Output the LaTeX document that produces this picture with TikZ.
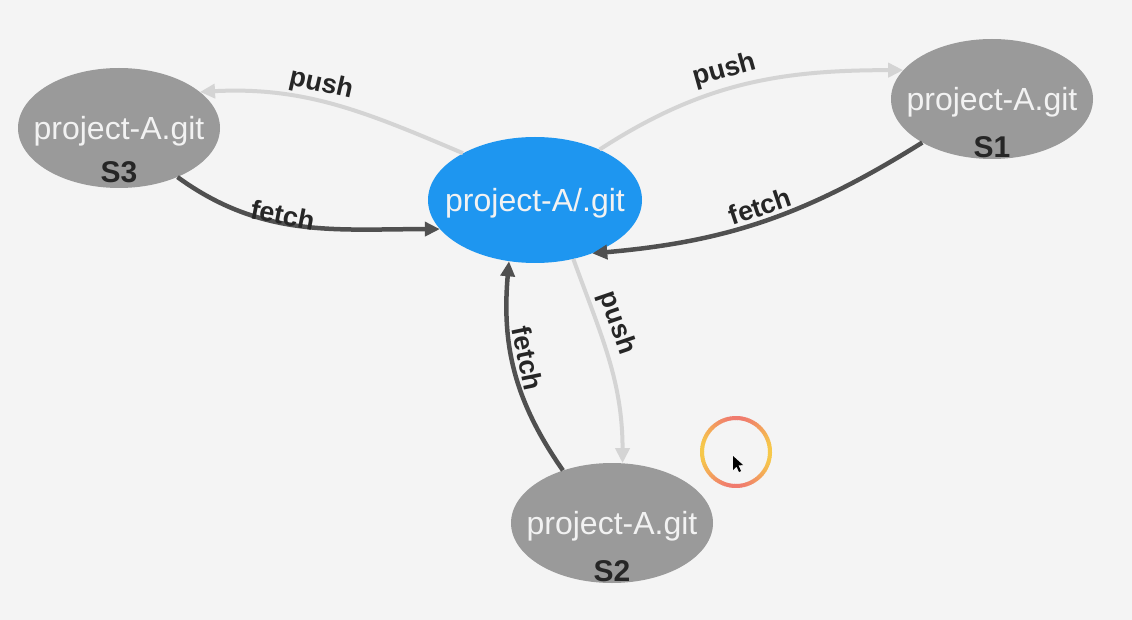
\documentclass[tikz,border=0pt]{standalone}
\usepackage{fontspec}
\setmainfont{Liberation Sans}
\usetikzlibrary{arrows.meta,shapes.geometric}
\definecolor{bg}{HTML}{F4F4F4}
\definecolor{repogray}{HTML}{9A9A9A}
\definecolor{localblue}{HTML}{1E96F0}
\definecolor{pushgray}{HTML}{D4D4D4}
\definecolor{fetchgray}{HTML}{505050}
\definecolor{labeltext}{HTML}{262626}
\definecolor{nodetext}{HTML}{F2F2F2}
\definecolor{ringred}{HTML}{F07A6E}
\definecolor{ringyellow}{HTML}{F6C84A}
\begin{document}
\begin{tikzpicture}[x=1pt,y=-1pt,
  repo/.style={ellipse, fill=repogray, minimum width=202pt, minimum height=120pt,
    inner xsep=-16pt, inner ysep=0pt, text depth=0pt,
    text=nodetext, font=\fontsize{32}{36}\selectfont},
  local/.style={ellipse, fill=localblue, minimum width=214pt, minimum height=126pt,
    inner xsep=-16pt, inner ysep=0pt, text depth=0pt,
    text=nodetext, font=\fontsize{32}{36}\selectfont},
  srvlab/.style={font=\bfseries\fontsize{30}{32}\selectfont, text=labeltext, inner sep=0pt},
  pusharrow/.style={draw=pushgray, line width=4pt, -{Triangle[length=15pt,width=14pt]}},
  fetcharrow/.style={draw=fetchgray, line width=4.5pt, -{Triangle[length=15pt,width=14pt]}},
  elabel/.style={font=\bfseries\fontsize{27}{30}\selectfont, text=labeltext, inner sep=0pt, sloped},
]
\useasboundingbox[fill=bg] (0,0) rectangle (1132,620);

\node[local] (c)  at (535,200) {project-A/.git};
\node[repo]  (s3) at (119,128) {project-A.git};
\node[repo]  (s1) at (992,99)  {project-A.git};
\node[repo]  (s2) at (612,523) {project-A.git};

\node[srvlab] (s3l) at (119,172) {S3};
\node[srvlab] (s1l) at (992,147) {S1};
\node[srvlab] (s2l) at (612,571) {S2};

% S3
\draw[pusharrow] (c.147) to[out=157,in=3]
  node[elabel, pos=0.57, above=2pt] {push} (s3.24);
\draw[fetcharrow] (s3.-40) to[out=-36,in=180]
  node[elabel, pos=0.42, above=-4pt] {fetch} (c.197);
% S1
\draw[pusharrow] (c.38) to[out=33,in=180]
  node[elabel, pos=0.45, above=4pt] {push} (s1.162);
\draw[fetcharrow] (s1.212) to[out=212,in=5]
  node[elabel, pos=0.5, above=3pt] {fetch} (c.317);
% S2
\draw[pusharrow] (c.-57) to[out=-70,in=90]
  node[elabel, pos=0.34, above=4pt] {push} (s2.80);
\draw[fetcharrow] (s2.133) to[out=125,in=-95]
  node[elabel, pos=0.55, above=3pt] {fetch} (c.247);

% cursor highlight
\foreach \a in {0,4,...,356}{
  \pgfmathtruncatemacro{\p}{50-50*cos(2*\a)}
  \draw[ringred!\p!ringyellow, line width=4pt] (736,452) ++(\a:34) arc[start angle=\a, end angle=\a+5, radius=34];
}
\fill[black] (733,456) -- (733,470) -- (736.5,466.5) -- (739,472) -- (741,471) -- (738.5,465.5) -- (743,465) -- cycle;
\end{tikzpicture}
\end{document}
